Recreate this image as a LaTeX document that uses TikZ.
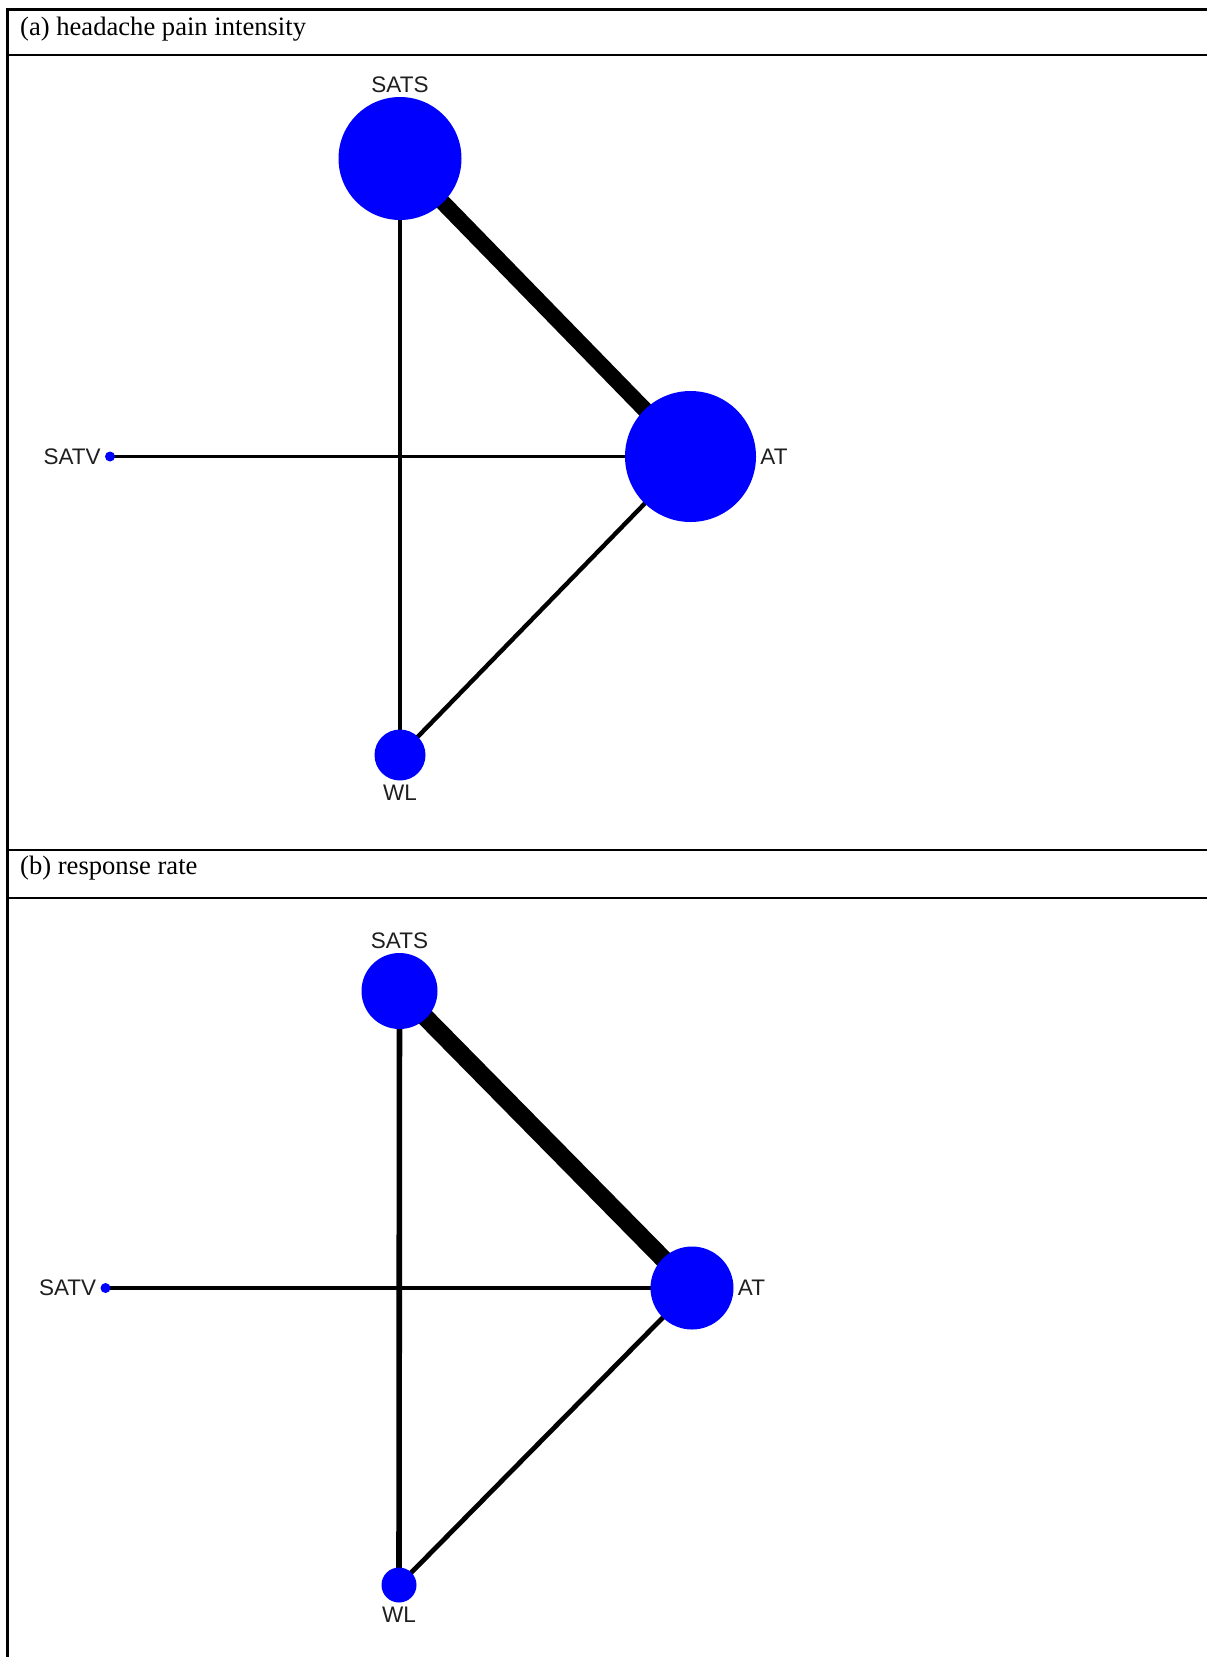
\documentclass[tikz,border=0pt]{standalone}
\usepackage{fontspec}
\setmainfont{Liberation Serif}
\newfontfamily\arialfont{Liberation Sans}
\usetikzlibrary{backgrounds}

\tikzset{
  trt/.style={circle, fill=blue, inner sep=0pt},
  trtlabel/.style={font=\arialfont\fontsize{22.5}{26}\selectfont, text=black!88, inner sep=1pt, label distance=3pt},
  rowtitle/.style={anchor=base west, inner sep=0pt, font=\fontsize{26.6}{31}\selectfont},
}

\begin{document}
\begin{tikzpicture}[x=1pt,y=-1pt]
    \useasboundingbox (0,0) rectangle (1207,1657);

    % Table rules
    \draw[line width=3pt] (5.5,9) -- (1207,9);
    \draw[line width=3pt] (7,9) -- (7,1657);
    \draw[line width=1.8pt] (7,55) -- (816,55);
    \draw[line width=2.8pt] (816,55) -- (1207,55);
    \draw[line width=2.8pt] (7,850) -- (1207,850);
    \draw[line width=1.8pt] (7,898) -- (785,898);
    \draw[line width=2.8pt] (785,898) -- (1207,898);

    % (a) headache pain intensity
    \node[rowtitle] (titleA) at (20,35) {(a) headache pain intensity};
    \node[trt, minimum size=123pt, label={[trtlabel]above:SATS}] (satsA) at (400,158.5) {};
    \node[trt, minimum size=131pt, label={[trtlabel]right:AT}] (atA) at (690.5,456.5) {};
    \node[trt, minimum size=10pt, label={[trtlabel]left:SATV}] (satvA) at (110,456.5) {};
    \node[trt, minimum size=51pt, label={[trtlabel]below:WL}] (wlA) at (400,755) {};

    % (b) response rate
    \node[rowtitle] (titleB) at (20,874) {(b) response rate};
    \node[trt, minimum size=76pt, label={[trtlabel]above:SATS}] (satsB) at (399.5,991) {};
    \node[trt, minimum size=83pt, label={[trtlabel]right:AT}] (atB) at (692,1288) {};
    \node[trt, minimum size=10pt, label={[trtlabel]left:SATV}] (satvB) at (105.5,1288) {};
    \node[trt, minimum size=35pt, label={[trtlabel]below:WL}] (wlB) at (399,1585) {};

    % Comparisons
    \begin{scope}[on background layer]
        \draw[line width=16pt] (satsA.center) -- (atA.center);
        \draw[line width=4.6pt] (satsA.center) -- (wlA.center);
        \draw[line width=3pt] (satvA.center) -- (atA.center);
        \draw[line width=4.4pt] (atA.center) -- (wlA.center);

        \draw[line width=18pt] (satsB.center) -- (atB.center);
        \draw[line width=5.6pt] (satsB.center) -- (wlB.center);
        \draw[line width=3.2pt] (satvB.center) -- (atB.center);
        \draw[line width=4.8pt] (atB.center) -- (wlB.center);
    \end{scope}
\end{tikzpicture}
\end{document}
